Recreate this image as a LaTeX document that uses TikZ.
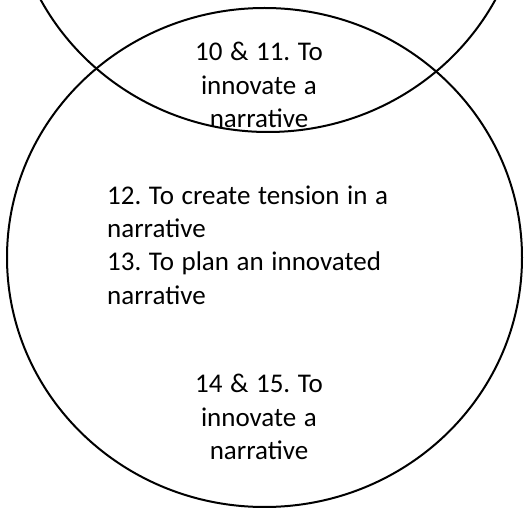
\documentclass[tikz,border=0pt]{standalone}
\usepackage{fontspec}
\setmainfont{Carlito}[WordSpace=1.25]
\frenchspacing
\begin{document}
\begin{tikzpicture}[x=1pt,y=-1pt,
  ring/.style={draw=black,line width=2pt},
  label/.style={inner sep=0pt,font=\fontsize{27}{33.3}\selectfont}]
\useasboundingbox (0,0) rectangle (531,508);
% upper set, partly off the top edge
\draw[ring] (268,-117.5) ellipse [x radius=257.5, y radius=249.5];
% lower set
\draw[ring] (264.5,257.5) ellipse [x radius=257.5, y radius=249.5];
% texts
\node[label,align=center] (overlap) at (259,85) {10 \& 11. To\\innovate a\\narrative};
\node[label,align=left,anchor=west] (middle) at (107,245) {12. To create tension in a\\narrative\\13. To plan an innovated\\narrative};
\node[label,align=center] (lower) at (259,417) {14 \& 15. To\\innovate a\\narrative};
\end{tikzpicture}
\end{document}
